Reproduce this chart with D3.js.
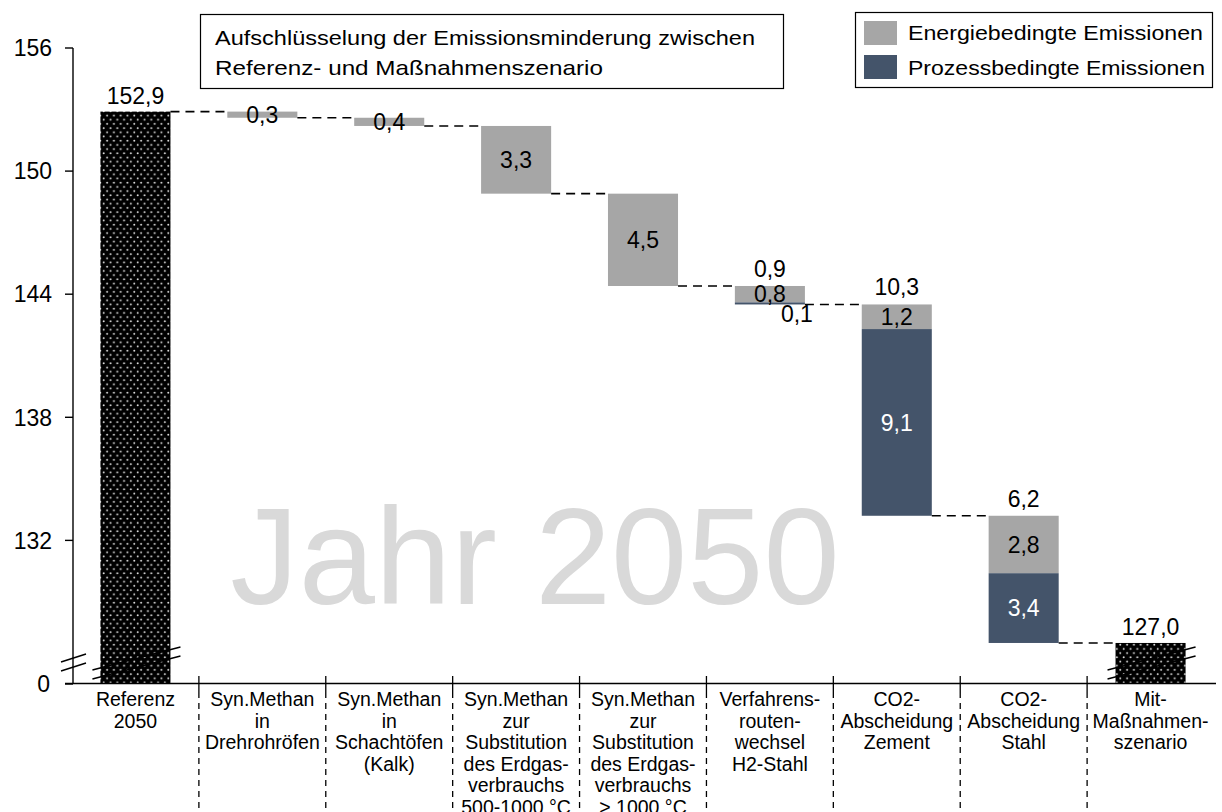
<!DOCTYPE html>
<html>
<head>
<meta charset="utf-8">
<script src="https://cdn.jsdelivr.net/npm/d3@7/dist/d3.min.js"></script>
<style>
    body { margin: 0; background: #fff; }
    svg text { font-family: "Liberation Sans", Arial, sans-serif; fill: #000; }
</style>
</head>
<body>
<div id="chart"></div>
<script>
// data (Mio. t CO2, Jahr 2050)
var categories = ["Referenz 2050", "Drehrohröfen", "Schachtöfen", "Erdgas 500-1000", "Erdgas >1000",
    "H2-Stahl", "CO2 Zement", "CO2 Stahl", "Mit-Maßnahmen"];
var catLabels = [
    ["Referenz", "2050"],
    ["Syn.Methan", "in", "Drehrohröfen"],
    ["Syn.Methan", "in", "Schachtöfen", "(Kalk)"],
    ["Syn.Methan", "zur", "Substitution", "des Erdgas-", "verbrauchs", "500-1000 °C"],
    ["Syn.Methan", "zur", "Substitution", "des Erdgas-", "verbrauchs", "> 1000 °C"],
    ["Verfahrens-", "routen-", "wechsel", "H2-Stahl"],
    ["CO2-", "Abscheidung", "Zement"],
    ["CO2-", "Abscheidung", "Stahl"],
    ["Mit-", "Maßnahmen-", "szenario"]
];
var startTotal = 152.9;
var endTotal = 127.0;
var energy = [0, 0.3, 0.4, 3.3, 4.5, 0.8, 1.2, 2.8, 0];
var process = [0, 0, 0, 0, 0, 0.1, 9.1, 3.4, 0];
var yTicks = [132, 138, 144, 150, 156];
var yBase = 125;   // axis break, shown as "0"

function drawWaterfall(container) {
    var fmt = function (v) { return d3.format(".1f")(v).replace(".", ","); };

    var width = 1222, height = 812;

    var svg = d3.select(container)
        .append("svg")
        .attr("width", width)
        .attr("height", height);

    // dotted pattern for the total bars
    var pat = svg.append("defs").append("pattern")
        .attr("id", "dots")
        .attr("patternUnits", "userSpaceOnUse")
        .attr("width", 6.8)
        .attr("height", 8.4);
    pat.append("rect").attr("width", 6.8).attr("height", 8.4).attr("fill", "#000");
    pat.append("circle").attr("cx", 1.7).attr("cy", 2.1).attr("r", 1).attr("fill", "#e0e0e0");
    pat.append("circle").attr("cx", 5.1).attr("cy", 6.3).attr("r", 1).attr("fill", "#e0e0e0");

    // scales
    var x = d3.scaleBand()
        .domain(categories)
        .range([72, 1214])
        .paddingInner(0.448)
        .paddingOuter(0.224);
    var y = d3.scaleLinear()
        .domain([yBase, 156])
        .range([684, 48]);
    var bw = x.bandwidth();
    var step = x.step();

    // watermark
    svg.append("text")
        .attr("x", 535)
        .attr("y", 604)
        .attr("text-anchor", "middle")
        .style("font-size", "137px")
        .style("fill", "#d9d9d9")
        .text("Jahr 2050");

    // build waterfall segments
    var segs = [];
    var running = startTotal;
    segs.push({i: 0, top: startTotal, bottom: yBase, type: "total"});
    for (var i = 1; i < categories.length - 1; i++) {
        var eBot = running - energy[i];
        var pBot = eBot - process[i];
        segs.push({i: i, top: running, bottom: eBot, type: "energy"});
        if (process[i] > 0) segs.push({i: i, top: eBot, bottom: pBot, type: "process"});
        running = pBot;
    }
    segs.push({i: categories.length - 1, top: endTotal, bottom: yBase, type: "total"});

    var fills = {total: "url(#dots)", energy: "#a6a6a6", process: "#44546a"};

    svg.selectAll("rect.seg")
        .data(segs)
        .enter()
        .append("rect")
        .attr("class", "seg")
        .attr("x", function (d) { return x(categories[d.i]); })
        .attr("y", function (d) { return y(d.top); })
        .attr("width", bw)
        .attr("height", function (d) { return Math.max(1.5, y(d.bottom) - y(d.top)); })
        .attr("fill", function (d) { return fills[d.type]; });

    // dashed connectors
    var level = startTotal;
    for (var i = 0; i < categories.length - 1; i++) {
        level = level - energy[i] - process[i];
        svg.append("line")
            .attr("x1", x(categories[i]) + bw)
            .attr("x2", x(categories[i + 1]))
            .attr("y1", y(level))
            .attr("y2", y(level))
            .attr("stroke", "#000")
            .attr("stroke-width", 1.6)
            .attr("stroke-dasharray", "9,6");
    }

    // value labels
    var lbl = svg.append("g").style("font-size", "23px").attr("text-anchor", "middle");
    level = startTotal;
    for (var i = 0; i < categories.length; i++) {
        var cx = x(categories[i]) + bw / 2;
        if (i === 0 || i === categories.length - 1) {
            var tv = i === 0 ? startTotal : endTotal;
            lbl.append("text").attr("x", cx).attr("y", y(tv) - 8).text(fmt(tv));
            continue;
        }
        var hi = level, mid = level - energy[i];
        var lo = mid - process[i];
        if (process[i] > 0) {
            // total reduction above the bar
            lbl.append("text").attr("x", cx).attr("y", y(hi) - 9).text(fmt(energy[i] + process[i]));
        }
        lbl.append("text")
            .attr("x", cx)
            .attr("y", y((hi + mid) / 2))
            .attr("dy", "0.36em")
            .text(fmt(energy[i]));
        if (process[i] > 0) {
            var big = y(lo) - y(mid) > 24;
            lbl.append("text")
                .attr("x", big ? cx : cx + 27)
                .attr("y", big ? y((mid + lo) / 2) : y(lo) + 9)
                .attr("dy", "0.36em")
                .style("fill", big ? "#fff" : "#000")
                .text(fmt(process[i]));
        }
        level = lo;
    }

    // y axis
    var yAxis = svg.append("g").attr("transform", "translate(73,0)");
    yAxis.append("line").attr("x1", 0).attr("x2", 0).attr("y1", y(156)).attr("y2", y(yBase))
        .attr("stroke", "#000").attr("stroke-width", 1.4);
    yAxis.selectAll("g.tick")
        .data(yTicks.concat([yBase]))
        .enter()
        .append("g")
        .attr("class", "tick")
        .each(function (d) {
            var g = d3.select(this);
            g.append("line").attr("x1", -8).attr("x2", 0).attr("y1", y(d)).attr("y2", y(d))
                .attr("stroke", "#000").attr("stroke-width", 1.4);
            g.append("text")
                .attr("x", d === yBase ? -23 : -21)
                .attr("y", y(d))
                .attr("dy", "0.36em")
                .attr("text-anchor", "end")
                .style("font-size", "23px")
                .text(d === yBase ? "0" : d);
        });

    // x axis line
    svg.append("line")
        .attr("x1", 65).attr("x2", 1216)
        .attr("y1", 683.5).attr("y2", 683.5)
        .attr("stroke", "#000").attr("stroke-width", 1.6);

    // category separators and labels
    for (var i = 0; i < categories.length; i++) {
        var cx = x(categories[i]) + bw / 2;
        if (i > 0) {
            var sx = cx - step / 2;
            svg.append("line").attr("x1", sx).attr("x2", sx).attr("y1", 676).attr("y2", 692)
                .attr("stroke", "#000").attr("stroke-width", 1.3);
            svg.append("line").attr("x1", sx).attr("x2", sx).attr("y1", 692).attr("y2", 812)
                .attr("stroke", "#000").attr("stroke-width", 1.3).attr("stroke-dasharray", "6,5");
        }
        var t = svg.append("text")
            .attr("text-anchor", "middle")
            .style("font-size", "19.5px");
        catLabels[i].forEach(function (line, k) {
            t.append("tspan").attr("x", cx).attr("y", 706 + k * 21.5).text(line);
        });
    }

    // axis break marks
    function breakMarks(x1, x2, yA, yB) {
        [0, 9].forEach(function (off) {
            svg.append("line")
                .attr("x1", x1).attr("x2", x2)
                .attr("y1", yA + off).attr("y2", yB + off)
                .attr("stroke", "#000").attr("stroke-width", 1.4);
        });
    }
    breakMarks(61, 86, 662, 654);
    [0, categories.length - 1].forEach(function (i) {
        var bx = x(categories[i]);
        breakMarks(bx - 8, bx + bw + 10, 670, 647);
    });

    // title box
    svg.append("rect").attr("x", 200.5).attr("y", 14.5).attr("width", 583).attr("height", 74)
        .attr("fill", "#fff").attr("stroke", "#000").attr("stroke-width", 1.2);
    var titleLines = [["Aufschlüsselung der Emissionsminderung zwischen", 540], ["Referenz- und Maßnahmenszenario", 388]];
    titleLines.forEach(function (d, k) {
        svg.append("text")
            .attr("x", 215)
            .attr("y", 45 + k * 30)
            .attr("textLength", d[1])
            .attr("lengthAdjust", "spacingAndGlyphs")
            .style("font-size", "21px")
            .text(d[0]);
    });

    // legend
    var legend = svg.append("g");
    legend.append("rect").attr("x", 855.5).attr("y", 12.5).attr("width", 357).attr("height", 75)
        .attr("fill", "#fff").attr("stroke", "#000").attr("stroke-width", 1.2);
    var legItems = [["Energiebedingte Emissionen", fills.energy, 295], ["Prozessbedingte Emissionen", fills.process, 297]];
    legItems.forEach(function (d, k) {
        legend.append("rect").attr("x", 864).attr("y", 21 + k * 34).attr("width", 33).attr("height", 24).attr("fill", d[1]);
        legend.append("text")
            .attr("x", 908)
            .attr("y", 40 + k * 35)
            .attr("textLength", d[2])
            .attr("lengthAdjust", "spacingAndGlyphs")
            .style("font-size", "21px")
            .text(d[0]);
    });
}

drawWaterfall("#chart");
</script>
</body>
</html>
